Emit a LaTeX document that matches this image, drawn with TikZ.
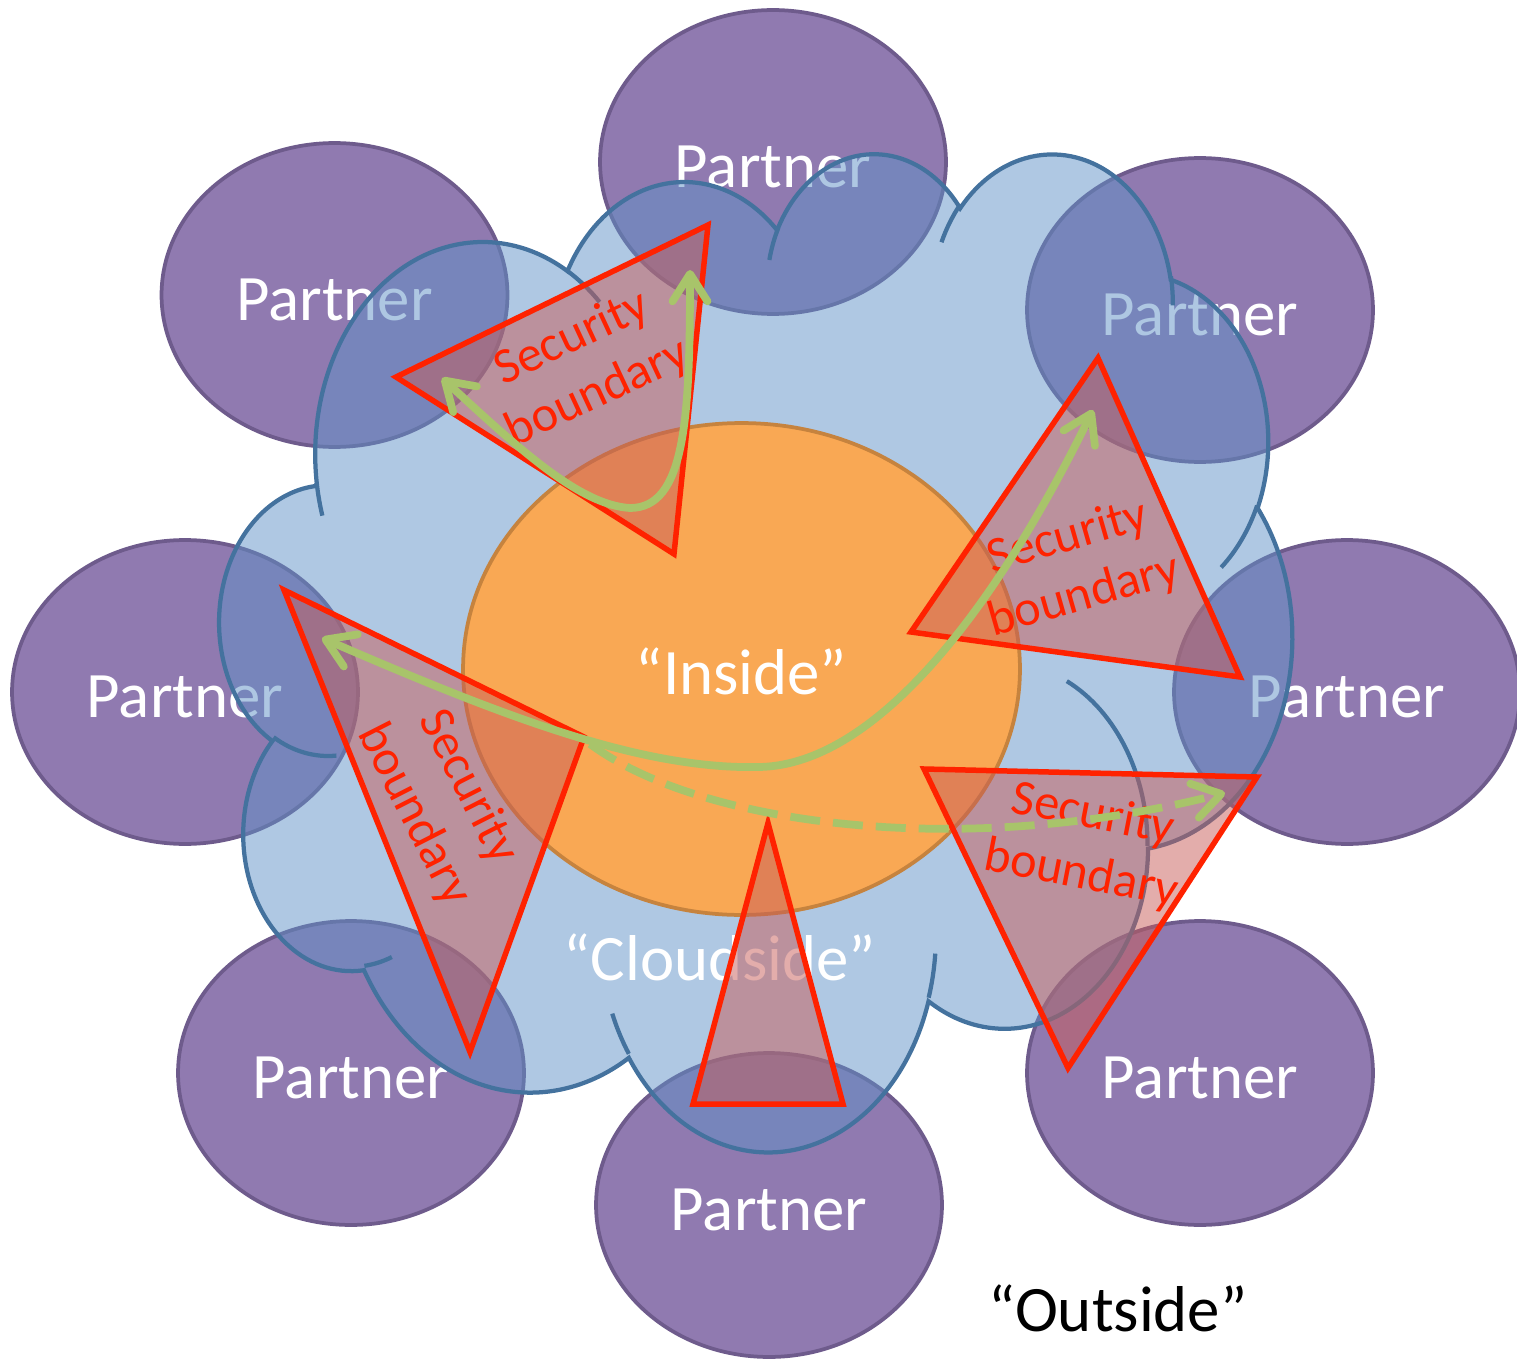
\documentclass[tikz,border=0pt]{standalone}
\usepackage{fontspec}
\setmainfont{Carlito}
\usetikzlibrary{arrows.meta, shapes.geometric, positioning}
\definecolor{partnerfill}{RGB}{144,122,176}
\definecolor{partneredge}{RGB}{110,91,140}
\definecolor{cloudfill}{RGB}{95,145,199}
\definecolor{cloudedge}{RGB}{68,114,158}
\definecolor{insidefill}{RGB}{249,168,84}
\definecolor{insideedge}{RGB}{198,131,62}
\definecolor{bndred}{RGB}{255,34,0}
\definecolor{bndfill}{RGB}{200,92,88}
\definecolor{flowgreen}{RGB}{168,196,106}
\tikzset{>={Straight Barb[length=0.55cm, width=0.7cm, round]}}
% parametric angle of an arc given by its visual angle
\tikzset{declare function={cpar(\va,\vw,\vh)=atan2(\vw*sin(\va),\vh*cos(\va));
    cdel(\va,\vs,\vw,\vh)=cpar(\va+\vs,\vw,\vh)-cpar(\va,\vw,\vh)
    +360*round((\vs-cpar(\va+\vs,\vw,\vh)+cpar(\va,\vw,\vh))/360);}}
\tikzset{
  bigtext/.style={font=\fontsize{36.9}{44}\selectfont, inner sep=0pt},
  partner/.style={ellipse, draw=partneredge, fill=partnerfill, line width=0.075cm,
    minimum width=6.92cm, minimum height=6.08cm, inner sep=0pt, text=white,
    bigtext, text height=29pt},
  inside/.style={ellipse, draw=insideedge, fill=insidefill, line width=0.075cm,
    minimum width=11.14cm, minimum height=9.84cm, inner sep=0pt, text=white,
    bigtext, text height=29pt},
  cloudshape/.style={fill=cloudfill, fill opacity=0.5, draw=cloudedge,
    line width=0.085cm},
  cloudtail/.style={draw=cloudedge, line width=0.085cm},
  boundary/.style={draw=bndred, fill=bndfill, fill opacity=0.5, line width=0.11cm},
  bndtext/.style={text=bndred, align=center, inner sep=0pt,
    font=\fontsize{28.6}{34.6}\selectfont},
  flow/.style={draw=flowgreen, line width=0.155cm},
  flowdash/.style={flow, dash pattern=on 0.6cm off 0.26cm},
}
\begin{document}
\begin{tikzpicture}[x=0.02cm, y=-0.02cm]
  \useasboundingbox (0,0) rectangle (1517,1361); %
  % partners
  \node[partner] (pTop) at (773,162) {Partner}; %
  \node[partner] (pTL) at (334.5,295) {Partner}; %
  \node[partner] (pTR) at (1200,310) {Partner}; %
  \node[partner] (pL) at (185,692) {Partner}; %
  \node[partner] (pR) at (1347,692) {Partner}; %
  \node[partner] (pBL) at (351,1073) {Partner}; %
  \node[partner] (pB) at (769,1205) {Partner}; %
  \node[partner] (pBR) at (1200,1073) {Partner}; %
  % the cloud
  \begin{scope}[xshift=4.4cm, yshift=-3.02cm, x=0.04963cm, y=-0.046204cm]
    \filldraw[cloudshape] (39.00,143.70)
    \foreach \rw/\rh/\sa/\sw [evaluate={\sa as \angS using cpar(\sa,\rw,\rh)},
      evaluate={\sw as \angD using cdel(\sa,\sw,\rw,\rh)}] in
    {67.53/91.90/-190.4875/123.7805, 53.33/72.67/-144.1024/89.9452,
      43.65/59.45/-145.8079/99.7230, 48.57/65.95/-130.9861/117.2417,
      53.33/72.73/-78.7089/109.0269, 67.75/92.20/-46.2673/130.2690,
      57.85/78.67/0.6250/114.0333, 67.52/92.15/22.4516/115.1726,
      77.20/105.43/66.2426/75.7110, 43.60/59.18/-274.9421/146.7356,
      43.45/59.45/-246.8285/152.5189}
    { arc[start angle=\angS, delta angle=\angD, x radius=\rw, y radius=\rh] }
    -- cycle; %
    \draw[cloudtail]
    \foreach \px/\py/\rw/\rh/\sa/\sw [evaluate={\sa as \angS using cpar(\sa,\rw,\rh)},
      evaluate={\sw as \angD using cdel(\sa,\sw,\rw,\rh)}] in
    {46.93/261.77/43.45/59.45/86.7420/26.4295,
      69.28/348.99/43.60/59.18/73.6105/11.4475,
      164.78/390.90/67.52/92.15/137.6242/14.0811,
      288.27/347.51/67.52/92.15/6.4533/15.9984,
      341.29/229.54/57.85/78.67/-70.2924/70.9174,
      417.98/153.54/53.33/72.73/30.3180/27.7515,
      383.24/54.26/48.57/65.95/-13.7443/14.8589,
      290.78/39.52/48.57/65.95/-149.1815/18.1954,
      221.41/47.20/43.65/59.45/-163.4943/17.6864,
      140.00/51.92/67.53/91.90/-66.7070/12.3194,
      41.27/157.89/67.53/91.90/157.6544/11.8582}
    { (\px,\py) arc[start angle=\angS, delta angle=\angD, x radius=\rw, y radius=\rh] }; %
  \end{scope}
  % inside, cloudside, outside
  \node[inside] (core) at (741.5,669) {“Inside”}; %
  \node[bigtext, text=white] (cloudside) at (720,957) {“Cloudside”}; %
  \node[bigtext] (outside) at (1118,1308) {“Outside”}; %
  % security boundaries
  \filldraw[boundary] (396,377) -- (708,225) -- (674,554) -- cycle; %
  \filldraw[boundary] (1098,358) -- (911,632) -- (1240,677) -- cycle; %
  \filldraw[boundary] (284,590) -- (584,737) -- (470,1052) -- cycle; %
  \filldraw[boundary] (924,769) -- (1257,777) -- (1068,1068) -- cycle; %
  \filldraw[boundary] (768,823) -- (843,1104) -- (693,1104) -- cycle; %
  \node[bndtext, rotate=25] (sbTL) at (585,366) {Security\\boundary}; %
  \node[bndtext, rotate=16] (sbTR) at (1076,567) {Security\\boundary}; %
  \node[bndtext, rotate=-63] (sbL) at (441,801) {Security\\boundary}; %
  \node[bndtext, rotate=-11] (sbBR) at (1087,845) {Security\\boundary}; %
  % flows
  \coordinate (aL) at (442,378); %
  \coordinate (aT) at (690,270); %
  \coordinate (bL) at (322,638); %
  \coordinate (bR) at (1093,410); %
  \coordinate (cS) at (590,744); %
  \coordinate (cE) at (1225,793); %
  \draw[flow, <->] (aL) .. controls (520,450) and (580,505) .. (630,508)
  .. controls (685,508) and (690,420) .. (aT); %
  \draw[flow, <->] (bL) .. controls (500,715) and (640,770) .. (760,767)
  .. controls (880,764) and (1000,600) .. (bR); %
  \draw[flowdash, ->] (cS) .. controls (700,825) and (960,860) .. (cE); %
\end{tikzpicture}
\end{document}
